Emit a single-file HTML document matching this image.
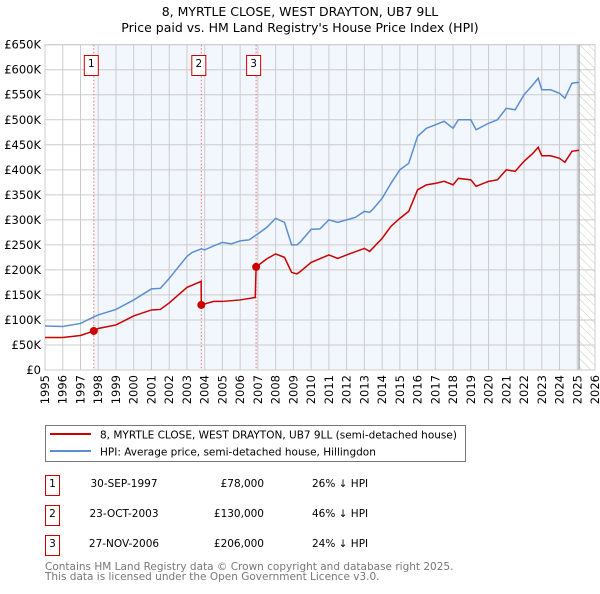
<!DOCTYPE html>
<html><head><meta charset="utf-8"><style>
body{margin:0;background:#fff;font-family:"DejaVu Sans","Liberation Sans",sans-serif;}
svg text{font-family:"DejaVu Sans","Liberation Sans",sans-serif;}
</style></head><body>
<svg id="chart" width="600" height="590" xmlns="http://www.w3.org/2000/svg">
<defs><pattern id="hatch" width="6" height="6" patternUnits="userSpaceOnUse" patternTransform="rotate(-45)"><rect width="6" height="6" fill="#fff"/><line x1="0" y1="0" x2="0" y2="6" stroke="#bbb" stroke-width="0.8"/></pattern></defs>
<text x="300" y="16" text-anchor="middle" font-size="12.5">8, MYRTLE CLOSE, WEST DRAYTON, UB7 9LL</text>
<text x="300" y="32" text-anchor="middle" font-size="12.5">Price paid vs. HM Land Registry's House Price Index (HPI)</text>
<g id="plot"></g>
<rect x="45.5" y="425.5" width="420" height="36" fill="#fff" stroke="#777"/>
<line x1="50" y1="434" x2="91" y2="434" stroke="#cc0000" stroke-width="2"/>
<text x="100" y="438.5" font-size="10.5">8, MYRTLE CLOSE, WEST DRAYTON, UB7 9LL (semi-detached house)</text>
<line x1="50" y1="451" x2="91" y2="451" stroke="#5b8fd4" stroke-width="2"/>
<text x="100" y="455.5" font-size="10.5">HPI: Average price, semi-detached house, Hillingdon</text>
<g font-size="10.5">
<rect x="45.5" y="475.5" width="14" height="20" fill="#fff" stroke="#cc0000"/><text x="52.5" y="487" text-anchor="middle">1</text>
<text x="124" y="487" text-anchor="middle">30-SEP-1997</text><text x="264" y="487" text-anchor="end">£78,000</text><text x="312" y="487">26% ↓ HPI</text>
<rect x="45.5" y="505.5" width="14" height="20" fill="#fff" stroke="#cc0000"/><text x="52.5" y="517" text-anchor="middle">2</text>
<text x="124" y="517" text-anchor="middle">23-OCT-2003</text><text x="264" y="517" text-anchor="end">£130,000</text><text x="312" y="517">46% ↓ HPI</text>
<rect x="45.5" y="535.5" width="14" height="20" fill="#fff" stroke="#cc0000"/><text x="52.5" y="547" text-anchor="middle">3</text>
<text x="124" y="547" text-anchor="middle">27-NOV-2006</text><text x="264" y="547" text-anchor="end">£206,000</text><text x="312" y="547">24% ↓ HPI</text>
</g>
<text x="45" y="570" font-size="10.5" fill="#777">Contains HM Land Registry data © Crown copyright and database right 2025.</text>
<text x="45" y="580" font-size="10.5" fill="#777">This data is licensed under the Open Government Licence v3.0.</text>
</svg>
<script>
const hpiYears=[1995,1996,1997,1997.75,1998,1999,2000,2001,2001.5,2002,2003,2003.3,2003.8,2004,2004.5,2005,2005.5,2006,2006.5,2007,2007.5,2008,2008.5,2008.9,2009.2,2009.4,2010,2010.5,2011,2011.5,2012,2012.5,2013,2013.3,2013.5,2014,2014.5,2015,2015.5,2016,2016.5,2017,2017.5,2018,2018.3,2019,2019.3,2020,2020.5,2021,2021.5,2022,2022.5,2022.8,2023,2023.5,2024,2024.3,2024.7,2025.1];
const hpiValues=[88,87,93,106,110,121,140,162,163,183,227,235,242,240,248,255,252,258,260,272,285,303,295,250,250,256,281,282,300,295,300,305,317,315,322,343,373,400,413,467,483,490,497,483,500,500,480,493,500,523,520,550,570,583,560,560,553,543,573,575];
const priceYears=[1995,1996,1997,1997.75,1998,1999,2000,2001,2001.5,2002,2003,2003.8,2003.81,2004.5,2005,2006,2006.85,2006.9,2007.5,2008,2008.5,2008.9,2009.2,2009.4,2010,2011,2011.5,2012,2013,2013.3,2014,2014.5,2015,2015.5,2016,2016.5,2017,2017.5,2018,2018.3,2019,2019.3,2020,2020.5,2021,2021.5,2022,2022.5,2022.8,2023,2023.5,2024,2024.3,2024.7,2025.1];
const priceValues=[65,65,69,78,83,90,108,120,121,134,165,177,130,137,137,140,145,206,222,232,225,195,192,197,215,230,223,230,243,237,263,287,303,317,360,370,373,377,370,383,380,367,377,380,400,397,417,433,445,428,428,423,415,437,439];
const saleYears=[1997.75,2003.81,2006.9];
const saleValues=[78,130,206];
const saleLabels=["1","2","3"];
const yTicks=[0,50,100,150,200,250,300,350,400,450,500,550,600,650];
const xTicks=[1995,1996,1997,1998,1999,2000,2001,2002,2003,2004,2005,2006,2007,2008,2009,2010,2011,2012,2013,2014,2015,2016,2017,2018,2019,2020,2021,2022,2023,2024,2025,2026];
const dataEnd=2025.1;
const X0=45,X1=595,Y0=370,Y1=44.7;
const xs=y=>X0+(y-1995)/(2026-1995)*(X1-X0);
const ys=v=>Y0-v/650*(Y0-Y1);
const NS="http://www.w3.org/2000/svg";
const g=document.getElementById('plot');
function mk(t,a){const e=document.createElementNS(NS,t);for(const k in a)e.setAttribute(k,a[k]);g.appendChild(e);return e;}
let e=mk('rect',{x:xs(saleYears[0]),y:Y1,width:xs(dataEnd)-xs(saleYears[0]),height:Y0-Y1,fill:'#f2f6fd'});


e=mk('rect',{x:xs(dataEnd),y:Y1,width:X1-xs(dataEnd),height:Y0-Y1,fill:'url(#hatch)'});


yTicks.forEach(v=>{
 e=mk('line',{x1:X0,x2:X1,y1:ys(v),y2:ys(v),stroke:'#ccc','stroke-width':1});
 
 
 e=mk('text',{x:41,y:ys(v)+4,'text-anchor':'end','font-size':'11.5'});e.textContent=v===0?'£0':'£'+v+'K';
 
 
});
xTicks.forEach(y=>{
 e=mk('line',{x1:xs(y),x2:xs(y),y1:Y1,y2:Y0,stroke:'#ccc','stroke-width':1});
 
 
 e=mk('text',{x:0,y:0,'text-anchor':'end','font-size':'11.5',transform:`translate(${xs(y)+4},${Y0+5}) rotate(-90)`});e.textContent=y;
 
 
});
e=mk('line',{x1:xs(dataEnd),x2:xs(dataEnd),y1:Y1,y2:Y0,stroke:'#888','stroke-width':1});


e=mk('rect',{x:X0,y:Y1,width:X1-X0,height:Y0-Y1,fill:'none',stroke:'#ccc'});


saleYears.forEach((y,i)=>{
 e=mk('line',{x1:xs(y),x2:xs(y),y1:Y1,y2:Y0,stroke:'#f07070','stroke-width':1,'stroke-dasharray':'1.5,2'});
 
 
 e=mk('rect',{x:xs(y)-9.5,y:55.5,width:14,height:20,fill:'#fff',stroke:'#cc0000'});
 
 
 e=mk('text',{x:xs(y)-2.5,y:67,'text-anchor':'middle','font-size':'10.5'});e.textContent=saleLabels[i];
 
 
});
e=mk('polyline',{points:hpiYears.map((y,i)=>xs(y)+','+ys(hpiValues[i])).join(' '),fill:'none',stroke:'#5b8fd4','stroke-width':1.5});


e=mk('polyline',{points:priceYears.map((y,i)=>xs(y)+','+ys(priceValues[i])).join(' '),fill:'none',stroke:'#cc0000','stroke-width':1.5});


saleYears.forEach((y,i)=>{
 e=mk('circle',{cx:xs(y),cy:ys(saleValues[i]),r:4,fill:'#cc0000'});
 
 
});
</script>
</body></html>
